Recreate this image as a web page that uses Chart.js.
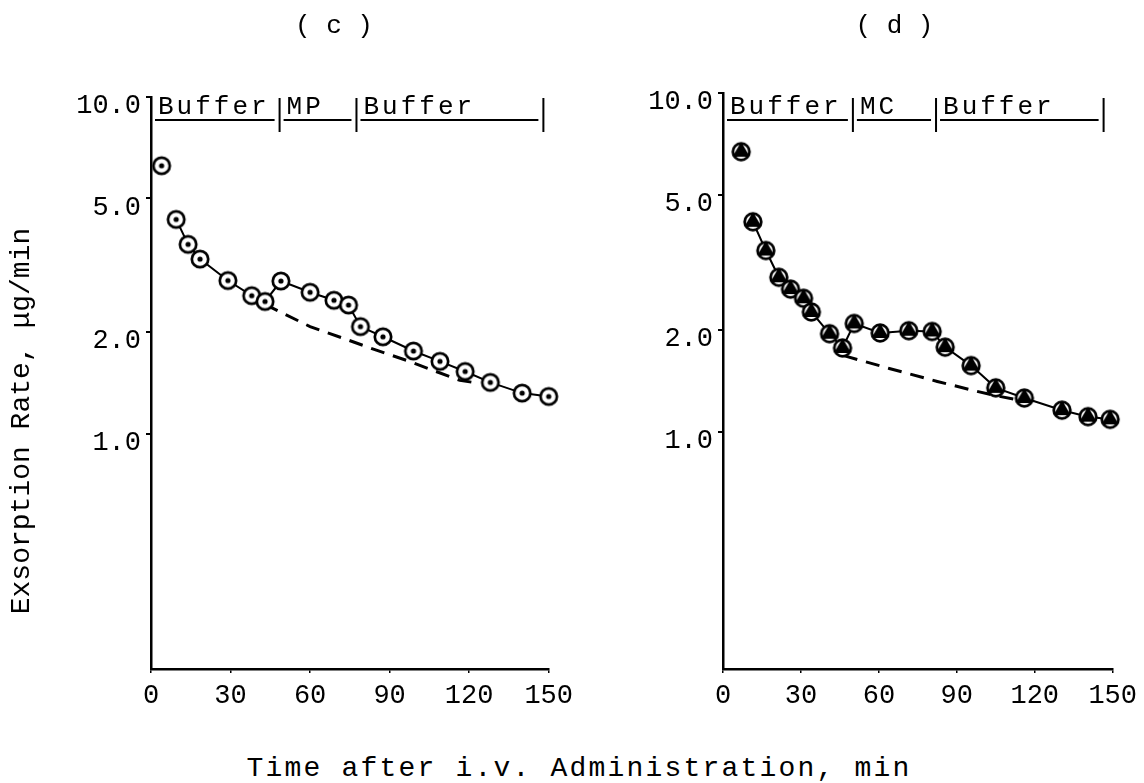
<!DOCTYPE html>
<html>
<head>
<meta charset="utf-8">
<script src="https://cdn.jsdelivr.net/npm/chart.js@4.4.1/dist/chart.umd.min.js"></script>
<style>
  body { margin: 0; background: #fff; width: 1144px; height: 783px; overflow: hidden; position: relative; }
  canvas { position: absolute; top: 0; }
  #grafico-c { left: 0; }
  #grafico-d { left: 580px; }
  #titulo-x {
    position: absolute; left: 0; width: 1158px; top: 752px;
    text-align: center; font: 28px "Liberation Mono", "DejaVu Sans Mono", monospace;
    letter-spacing: 2.2px; color: #000; line-height: 34px;
  }
</style>
</head>
<body>
<canvas id="grafico-c" width="580" height="720"></canvas>
<canvas id="grafico-d" width="564" height="720"></canvas>
<div id="titulo-x">Time after i.v. Administration, min</div>
<script>
const xTicks = [0, 30, 60, 90, 120, 150];
const yTicks = [1, 2, 5, 10];

// painel (c): MP
const cTime = [4, 9.5, 14, 18.5, 29, 38, 43, 49, 60, 69, 74.5, 79, 87.5, 99, 109, 118.5, 128, 140, 150];
const cRate = [6.25, 4.33, 3.65, 3.30, 2.85, 2.57, 2.47, 2.84, 2.63, 2.49, 2.41, 2.08, 1.94, 1.76, 1.64, 1.53, 1.42, 1.32, 1.29];
const cBaseTime = [43, 60, 72.5, 85, 97.5, 107.5, 116.5, 124];
const cBaseRate = [2.42, 2.08, 1.92, 1.77, 1.64, 1.53, 1.44, 1.41];
const cPhaseEnds = [48.5, 77.5, 148];
const cPhaseLabels = ['Buffer', 'MP', 'Buffer'];

// painel (d): MC
const dTime = [7, 11.5, 16.5, 21.5, 26, 31, 34, 41, 46, 50.5, 60.5, 71.5, 80.5, 85.5, 95.5, 105, 116, 130.5, 140.5, 149];
const dRate = [6.71, 4.17, 3.43, 2.86, 2.64, 2.48, 2.26, 1.95, 1.77, 2.09, 1.96, 1.99, 1.98, 1.78, 1.57, 1.35, 1.26, 1.16, 1.11, 1.09];
const dBaseTime = [46.5, 64, 82.5, 97.5, 105, 112];
const dBaseRate = [1.68, 1.54, 1.41, 1.32, 1.28, 1.25];
const dPhaseEnds = [50, 82, 146.5];
const dPhaseLabels = ['Buffer', 'MC', 'Buffer'];

const FONTE = '"Liberation Mono", "DejaVu Sans Mono", monospace';

function marcadorAnel() {
    const c = document.createElement('canvas');
    c.width = c.height = 24;
    const g = c.getContext('2d');
    g.beginPath();
    g.arc(12, 12, 8.2, 0, 2 * Math.PI);
    g.fillStyle = '#fff';
    g.fill();
    g.lineWidth = 2.7;
    g.strokeStyle = '#000';
    g.stroke();
    g.beginPath();
    g.arc(12, 12, 2.6, 0, 2 * Math.PI);
    g.fillStyle = '#000';
    g.fill();
    return c;
}

function marcadorTriangulo() {
    const c = document.createElement('canvas');
    c.width = c.height = 24;
    const g = c.getContext('2d');
    g.beginPath();
    g.arc(12, 12, 8.3, 0, 2 * Math.PI);
    g.fillStyle = '#fff';
    g.fill();
    g.lineWidth = 2.8;
    g.strokeStyle = '#000';
    g.stroke();
    g.save();
    g.beginPath();
    g.arc(12, 12, 8.3, 0, 2 * Math.PI);
    g.clip();
    g.beginPath();
    [-90, 30, 150].forEach((ang, i) => {
        const r = ang * Math.PI / 180;
        const px = 12 + 10 * Math.cos(r), py = 12 + 10 * Math.sin(r);
        if (i === 0) g.moveTo(px, py); else g.lineTo(px, py);
    });
    g.closePath();
    g.fillStyle = '#000';
    g.fill();
    g.restore();
    return c;
}

const decor = {
    id: 'decor',
    afterDraw(chart, args, o) {
        const { ctx, chartArea: a, scales: { x } } = chart;
        ctx.save();
        ctx.fillStyle = '#000';
        ctx.strokeStyle = '#000';

        ctx.font = '26px ' + FONTE;
        ctx.textAlign = 'center';
        ctx.textBaseline = 'middle';
        ctx.fillText(o.title, a.left + o.titlePos * (a.right - a.left), 26);

        ctx.font = '26px ' + FONTE;
        ctx.textAlign = 'left';
        ctx.textBaseline = 'alphabetic';
        ctx.lineWidth = 2;
        if ('letterSpacing' in ctx) ctx.letterSpacing = '3px';
        let inicio = a.left;
        o.phaseEnds.forEach((fim, i) => {
            const xf = x.getPixelForValue(fim);
            ctx.fillText(o.phaseLabels[i], inicio + 7, 114);
            ctx.beginPath();
            ctx.moveTo(inicio + 4, 120);
            ctx.lineTo(xf - 5, 120);
            ctx.moveTo(xf, 98);
            ctx.lineTo(xf, 132);
            ctx.stroke();
            inicio = xf;
        });
        if ('letterSpacing' in ctx) ctx.letterSpacing = '0px';

        if (o.yTitle) {
            ctx.translate(22, 421);
            ctx.rotate(-Math.PI / 2);
            ctx.font = '28px ' + FONTE;
            ctx.textAlign = 'center';
            ctx.textBaseline = 'middle';
            ctx.fillText(o.yTitle, 0, 0);
        }
        ctx.restore();
    }
};

function criarGrafico(id, cfg) {
    const pontos = cfg.time.map((t, i) => ({ x: t, y: cfg.rate[i] }));
    const base = cfg.baseTime.map((t, i) => ({ x: t, y: cfg.baseRate[i] }));
    return new Chart(document.getElementById(id).getContext('2d'), {
        type: 'scatter',
        data: {
            datasets: [{
                label: 'Rate',
                data: pontos,
                showLine: true,
                borderColor: '#000',
                borderWidth: 2,
                pointStyle: cfg.marker,
                pointRadius: 8,
                clip: false,
                order: 0,
                segment: {
                    borderColor: ctx => ctx.p0DataIndex === 0 ? 'rgba(0,0,0,0)' : '#000'
                }
            }, {
                label: 'Baseline',
                data: base,
                showLine: true,
                borderColor: '#000',
                borderWidth: 3,
                borderDash: [14, 9],
                pointRadius: 0,
                clip: false,
                order: 1
            }]
        },
        options: {
            responsive: false,
            animation: false,
            layout: {
                autoPadding: false,
                padding: { left: 0, right: cfg.padRight, top: cfg.padTop, bottom: 0 }
            },
            plugins: {
                legend: { display: false },
                tooltip: { enabled: false },
                decor: {
                    title: cfg.title,
                    titlePos: cfg.titlePos,
                    phaseEnds: cfg.phaseEnds,
                    phaseLabels: cfg.phaseLabels,
                    yTitle: cfg.yTitle
                }
            },
            scales: {
                x: {
                    type: 'linear',
                    min: 0,
                    max: 150,
                    afterBuildTicks: s => { s.ticks = xTicks.map(v => ({ value: v })); },
                    afterFit: s => { s.height = 51; },
                    border: { display: true, color: '#000', width: 2.5 },
                    grid: { drawOnChartArea: false, drawTicks: true, tickLength: 4, color: '#000', lineWidth: 1.5 },
                    ticks: { color: '#000', padding: 7, font: { family: FONTE, size: 27 }, maxRotation: 0 }
                },
                y: {
                    type: 'logarithmic',
                    min: 0.2,
                    max: 10,
                    afterBuildTicks: s => { s.ticks = yTicks.map(v => ({ value: v })); },
                    afterFit: s => { s.width = cfg.yWidth; },
                    border: { display: true, color: '#000', width: 2.5 },
                    grid: { drawOnChartArea: false, drawTicks: true, tickLength: 5, color: '#000', lineWidth: 2 },
                    ticks: {
                        color: '#000',
                        padding: 5,
                        labelOffset: 9,
                        font: { family: FONTE, size: 27 },
                        callback: v => Number(v).toFixed(1)
                    }
                }
            }
        },
        plugins: [decor]
    });
}

criarGrafico('grafico-c', {
    time: cTime, rate: cRate, baseTime: cBaseTime, baseRate: cBaseRate,
    phaseEnds: cPhaseEnds, phaseLabels: cPhaseLabels,
    title: '( c )', titlePos: 0.46, yTitle: 'Exsorption Rate, \u03bcg/min',
    marker: marcadorAnel(), padRight: 25, padTop: 97, yWidth: 151
});

criarGrafico('grafico-d', {
    time: dTime, rate: dRate, baseTime: dBaseTime, baseRate: dBaseRate,
    phaseEnds: dPhaseEnds, phaseLabels: dPhaseLabels,
    title: '( d )', titlePos: 0.44, yTitle: null,
    marker: marcadorTriangulo(), padRight: 19, padTop: 93, yWidth: 143
});
</script>
</body>
</html>
